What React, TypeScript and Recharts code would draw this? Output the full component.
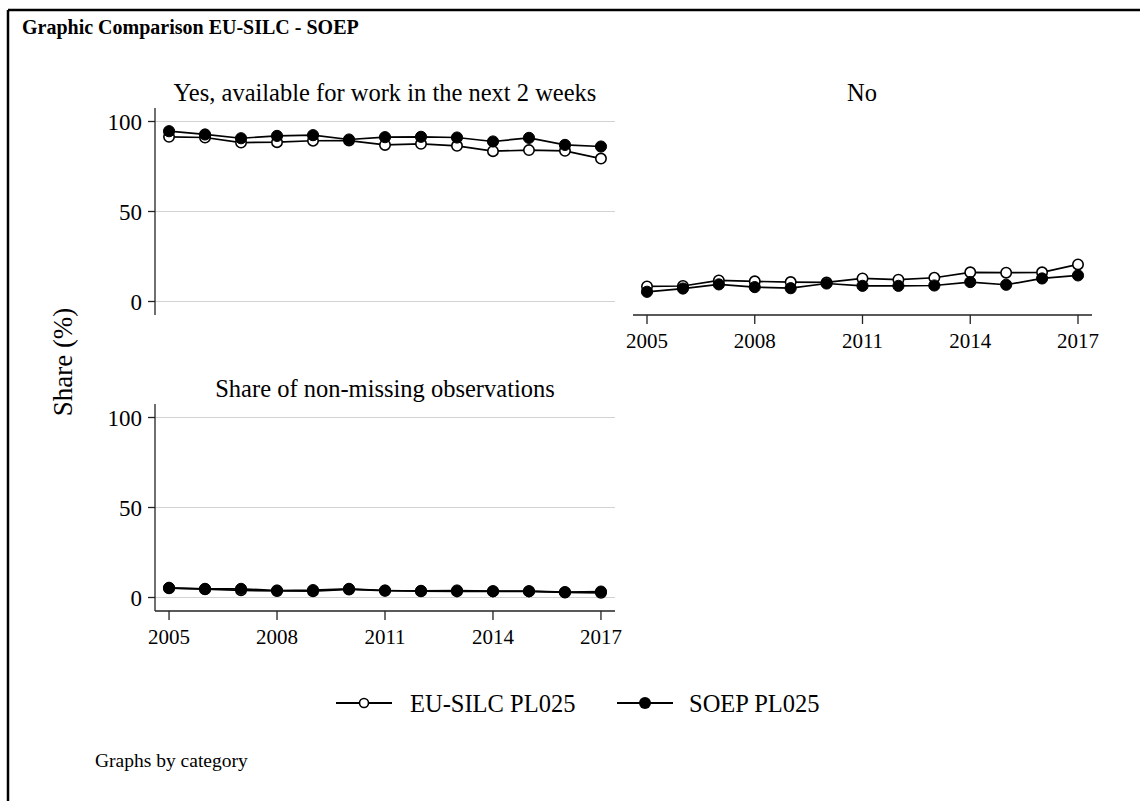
import React from 'react';
import { LineChart, Line, XAxis, YAxis, CartesianGrid } from 'recharts';

const years = [2005, 2006, 2007, 2008, 2009, 2010, 2011, 2012, 2013, 2014, 2015, 2016, 2017];
const yesEU = [91.5, 91.1, 88.3, 88.5, 89.3, 89.4, 87.0, 87.6, 86.5, 83.5, 84.1, 83.7, 79.4];
const yesSOEP = [94.6, 92.8, 90.7, 92.0, 92.4, 90.0, 91.3, 91.5, 91.1, 88.9, 90.9, 87.0, 86.1];
const noEU = [8.4, 8.6, 11.7, 11.2, 10.8, 10.6, 12.8, 12.1, 13.2, 16.2, 16.0, 16.2, 20.6];
const noSOEP = [5.4, 7.2, 9.5, 8.0, 7.4, 10.0, 8.7, 8.7, 8.9, 10.8, 9.3, 12.8, 14.5];
const nmEU = [5.2, 4.6, 4.0, 3.6, 3.5, 4.5, 3.8, 3.5, 3.4, 3.4, 3.4, 2.8, 2.6];
const nmSOEP = [5.4, 4.8, 4.8, 3.9, 4.1, 4.8, 3.9, 3.7, 3.9, 3.5, 3.5, 3.0, 3.3];
const xTicks = [2005, 2008, 2011, 2014, 2017];
const yTicks = [0, 50, 100];
const seriesNames = ['EU-SILC PL025', 'SOEP PL025'];
const panelTitles = ['Yes, available for work in the next 2 weeks', 'No', 'Share of non-missing observations'];

const build = (eu: number[], soep: number[]) =>
  years.map((y, i) => ({ year: y, eu: eu[i], soep: soep[i] }));

const FONT = "'Liberation Serif', 'Times New Roman', serif";
const AX = { stroke: '#222', strokeWidth: 1.3 };

type PanelProps = {
  data: { year: number; eu: number; soep: number }[];
  plotLeft: number;
  plotTop: number;
  plotRight: number;
  plotBottom: number;
  showX: boolean;
  showY: boolean;
};

const Panel = ({ data, plotLeft, plotTop, plotRight, plotBottom, showX, showY }: PanelProps) => {
  const yW = showY ? 60 : 0;
  const xH = showX ? 45 : 0;
  const width = plotRight + 20;
  const height = plotBottom + xH + 20;
  return (
    <div style={{ position: 'absolute', left: 0, top: 0 }}>
      <LineChart
        width={width}
        height={height}
        data={data}
        margin={{ top: plotTop, left: plotLeft - yW, right: width - plotRight, bottom: height - plotBottom - xH }}
      >
        <CartesianGrid vertical={false} horizontalValues={yTicks} stroke="#d2d2d2" strokeWidth={1.2} />
        <XAxis
          dataKey="year"
          type="number"
          domain={[2004.61, 2017.39]}
          ticks={xTicks}
          allowDataOverflow
          hide={!showX}
          height={xH}
          axisLine={AX}
          tickLine={AX}
          tickSize={9}
          tickMargin={9}
          tick={{ fontSize: 21, fontFamily: FONT, fill: '#000' }}
        />
        <YAxis
          type="number"
          domain={[-7.5, 107.5]}
          ticks={yTicks}
          allowDataOverflow
          width={yW}
          axisLine={showY ? AX : false}
          tickLine={showY ? AX : false}
          tick={showY ? { fontSize: 23, fontFamily: FONT, fill: '#000' } : false}
          tickSize={7}
          tickMargin={6}
        />
        <Line
          dataKey="eu"
          type="linear"
          stroke="#000"
          strokeWidth={1.7}
          dot={{ r: 5.2, fill: '#fff', stroke: '#000', strokeWidth: 1.6 }}
          activeDot={false}
          isAnimationActive={false}
        />
        <Line
          dataKey="soep"
          type="linear"
          stroke="#000"
          strokeWidth={1.7}
          dot={{ r: 5.6, fill: '#000', stroke: '#000', strokeWidth: 1 }}
          activeDot={false}
          isAnimationActive={false}
        />
      </LineChart>
    </div>
  );
};

export default function App() {
  return (
    <div style={{ position: 'absolute', left: 0, top: 0, width: 1140, height: 801, background: '#fff', overflow: 'hidden' }}>
      <Panel data={build(yesEU, yesSOEP)} plotLeft={155} plotTop={108} plotRight={615} plotBottom={315} showX={false} showY={true} />
      <Panel data={build(noEU, noSOEP)} plotLeft={633} plotTop={108} plotRight={1092} plotBottom={315} showX={true} showY={false} />
      <Panel data={build(nmEU, nmSOEP)} plotLeft={155} plotTop={404} plotRight={615} plotBottom={611} showX={true} showY={true} />
      <svg width={1140} height={801} style={{ position: 'absolute', left: 0, top: 0, pointerEvents: 'none' }}>
        <line x1={8} y1={10} x2={1140} y2={10} stroke="#000" strokeWidth={2.5} />
        <line x1={8} y1={10} x2={8} y2={801} stroke="#000" strokeWidth={2.5} />
        <text x={22} y={34} fontFamily={FONT} fontWeight="bold" fontSize={20} fill="#000">
          Graphic Comparison EU-SILC - SOEP
        </text>
        <text x={385} y={101} textAnchor="middle" fontFamily={FONT} fontSize={24.5} fill="#000">{panelTitles[0]}</text>
        <text x={862} y={101} textAnchor="middle" fontFamily={FONT} fontSize={24.5} fill="#000">{panelTitles[1]}</text>
        <text x={385} y={397} textAnchor="middle" fontFamily={FONT} fontSize={24.5} fill="#000">{panelTitles[2]}</text>
        <text x={0} y={0} transform="translate(63,362) rotate(-90)" textAnchor="middle" dominantBaseline="central" fontFamily={FONT} fontSize={27} fill="#000">
          Share (%)
        </text>
        <g>
          <line x1={336} y1={703} x2={392} y2={703} stroke="#000" strokeWidth={2} />
          <circle cx={364} cy={703} r={4.5} fill="#fff" stroke="#000" strokeWidth={1.6} />
          <text x={410} y={703} dominantBaseline="central" fontFamily={FONT} fontSize={24.5} fill="#000">{seriesNames[0]}</text>
          <line x1={617} y1={703} x2={673} y2={703} stroke="#000" strokeWidth={2} />
          <circle cx={645} cy={703} r={6} fill="#000" />
          <text x={689} y={703} dominantBaseline="central" fontFamily={FONT} fontSize={24.5} fill="#000">{seriesNames[1]}</text>
        </g>
        <text x={95} y={767} fontFamily={FONT} fontSize={19.5} fill="#000">Graphs by category</text>
      </svg>
    </div>
  );
}
